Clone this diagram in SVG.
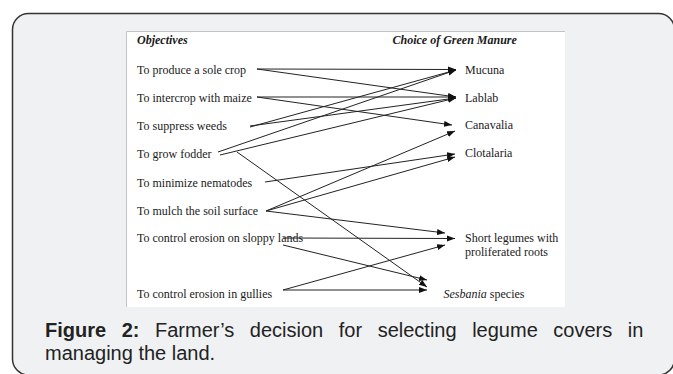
<svg xmlns="http://www.w3.org/2000/svg" width="673" height="374" viewBox="0 0 673 374">
<defs>
<style>
.lbl{font-family:"Liberation Serif","Times New Roman",serif;font-size:12px;fill:#1a1a1a}
.hdr{font-family:"Liberation Serif","Times New Roman",serif;font-size:12px;font-weight:bold;font-style:italic;fill:#1a1a1a}
.cap{font-family:"Liberation Sans",Arial,sans-serif;font-size:20px;fill:#222}
.conn line{stroke:#222;stroke-width:1;marker-end:url(#ah)}
</style>
<marker id="ah" markerUnits="userSpaceOnUse" markerWidth="9" markerHeight="7" refX="8" refY="3" orient="auto">
<path d="M0,0 L8,3 L0,6 z" fill="#111"/>
</marker>
</defs>
<rect x="0" y="0" width="673" height="374" fill="#ffffff"/>
<rect id="frame" x="12.5" y="13.5" width="662" height="361.5" rx="16" fill="#f0f1f3" stroke="#333" stroke-width="1.5"/>
<g id="figure">
<rect x="126" y="31" width="439" height="276" fill="#ffffff"/>
<path d="M126.5,307 V31.5 H565" fill="none" stroke="#c4c4c4" stroke-width="1"/>
</g>
<text class="hdr" x="137" y="44">Objectives</text>
<text class="hdr" x="392.5" y="44">Choice of Green Manure</text>
<g id="obj-sole"><text class="lbl" x="137" y="74">To produce a sole crop</text></g>
<g id="obj-intercrop"><text class="lbl" x="137" y="102">To intercrop with maize</text></g>
<g id="obj-weeds"><text class="lbl" x="137" y="130">To suppress  weeds</text></g>
<g id="obj-fodder"><text class="lbl" x="137" y="158">To grow fodder</text></g>
<g id="obj-nematodes"><text class="lbl" x="137" y="187">To minimize nematodes</text></g>
<g id="obj-mulch"><text class="lbl" x="137" y="215">To mulch the soil surface</text></g>
<g id="obj-sloppy"><text class="lbl" x="137" y="242">To control erosion on sloppy lands</text></g>
<g id="obj-gullies"><text class="lbl" x="137" y="298">To control erosion in gullies</text></g>
<g id="gm-mucuna"><text class="lbl" x="465" y="74">Mucuna</text></g>
<g id="gm-lablab"><text class="lbl" x="465" y="102">Lablab</text></g>
<g id="gm-canavalia"><text class="lbl" x="465" y="129">Canavalia</text></g>
<g id="gm-clotalaria"><text class="lbl" x="465" y="157">Clotalaria</text></g>
<g id="gm-short"><text class="lbl" x="465" y="242">Short legumes with</text><text class="lbl" x="465" y="256">proliferated  roots</text></g>
<g id="gm-sesbania"><text class="lbl" x="443.5" y="298"><tspan font-style="italic">Sesbania</tspan> species</text></g>
<g id="connectors" class="conn">
<line x1="257" y1="69" x2="456" y2="69.5"/>
<line x1="257" y1="69" x2="456" y2="97"/>
<line x1="257" y1="97" x2="456" y2="97"/>
<line x1="257" y1="97" x2="452" y2="125"/>
<line x1="250" y1="127" x2="456" y2="70"/>
<line x1="250" y1="126" x2="456" y2="98"/>
<line x1="218" y1="152" x2="456" y2="70"/>
<line x1="220" y1="155" x2="456" y2="98"/>
<line x1="237" y1="152" x2="427" y2="287"/>
<line x1="265" y1="182" x2="455" y2="154"/>
<line x1="266" y1="211" x2="455" y2="131"/>
<line x1="266" y1="211" x2="455" y2="157"/>
<line x1="266" y1="211" x2="445" y2="233"/>
<line x1="283" y1="238" x2="455" y2="238.5"/>
<line x1="283" y1="245" x2="427" y2="280"/>
<line x1="283" y1="290" x2="445" y2="245"/>
<line x1="283" y1="290" x2="427" y2="290"/>
</g>
<g id="caption">
<text class="cap" x="45" y="337" word-spacing="10"><tspan font-weight="bold">Figure 2:</tspan> Farmer’s decision for selecting legume covers in</text>
<text class="cap" x="45" y="360">managing the land.</text>
</g>
</svg>
